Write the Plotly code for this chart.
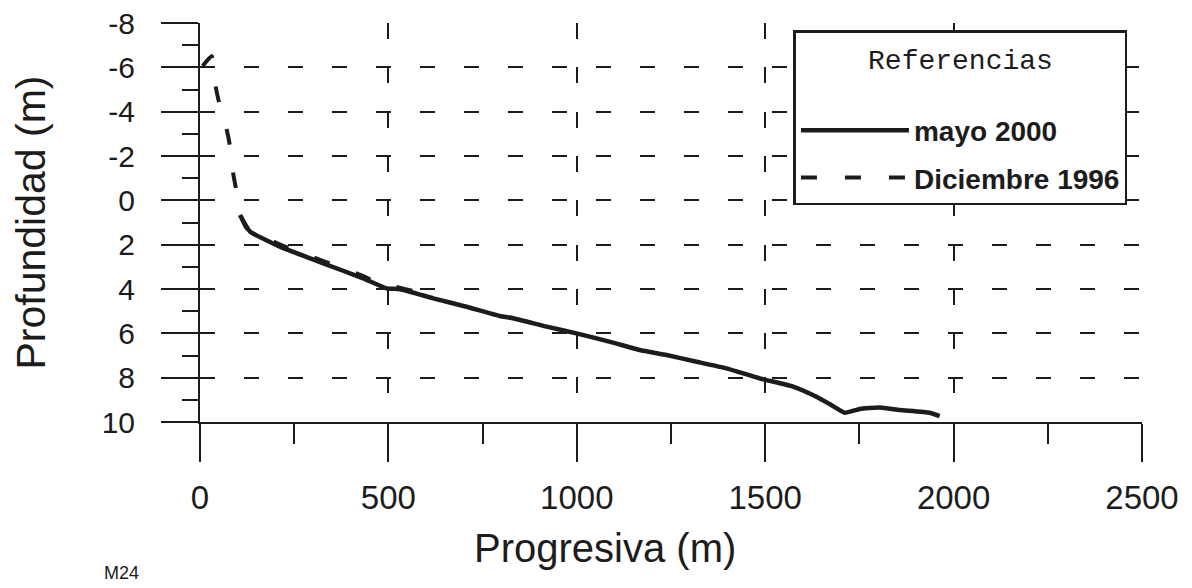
import plotly.graph_objects as go

# --- data ---
mayo2000_x = [106, 133, 212, 327, 433, 495, 531, 619, 707, 796, 831, 920, 999, 1096,
              1167, 1238, 1318, 1397, 1485, 1574, 1636, 1671, 1711, 1751, 1804, 1857, 1936, 1963]
mayo2000_y = [0.66, 1.41, 2.09, 2.84, 3.52, 3.97, 4.01, 4.42, 4.80, 5.22, 5.32, 5.70, 6.00, 6.42,
              6.75, 6.98, 7.28, 7.58, 8.03, 8.40, 8.86, 9.19, 9.58, 9.41, 9.35, 9.46, 9.58, 9.73]

dic1996_x = [7, 31, 42, 51, 71, 79, 88, 95, 108, 124, 220, 432, 493, 517, 565, 619]
dic1996_y = [-6.06, -6.51, -5.10, -4.38, -3.17, -2.50, -1.22, -0.56, 0.69, 1.26, 2.05, 3.41, 3.91, 3.89, 4.09, 4.40]

x_ticks = [0, 500, 1000, 1500, 2000, 2500]
y_ticks = [-8, -6, -4, -2, 0, 2, 4, 6, 8, 10]

INK = "#1c1c1c"
FONT = "Liberation Sans, Arial, sans-serif"
MONO = "Liberation Mono, DejaVu Sans Mono, monospace"

fig = go.Figure()
fig.add_trace(go.Scatter(x=mayo2000_x, y=mayo2000_y, mode="lines", name="mayo 2000",
                         legendgroup="a",
                         line=dict(color=INK, width=4.5, shape="spline", smoothing=0.4)))
fig.add_trace(go.Scatter(x=dic1996_x, y=dic1996_y, mode="lines", name="Diciembre 1996",
                         legendgroup="b",
                         line=dict(color=INK, width=4, dash="16px,28px", shape="spline", smoothing=0.4)))

fig.update_layout(
    width=1192, height=588,
    margin=dict(l=192, r=58, t=15, b=174),
    paper_bgcolor="white", plot_bgcolor="white",
    font=dict(family=FONT, color=INK),
    showlegend=True,
    legend=dict(
        x=0.63, y=0.982, xanchor="left", yanchor="top",
        bgcolor="white", bordercolor=INK, borderwidth=2.5,
        font=dict(family=FONT, size=28, color=INK, weight="bold"),
        title=dict(text="Referencias<br> ", side="top center",
                   font=dict(family=MONO, size=28, color=INK, weight="normal")),
        itemwidth=108, traceorder="grouped", tracegroupgap=8,
    ),
    xaxis=dict(
        range=[0, 2500], tickvals=x_ticks, ticktext=[str(v) for v in x_ticks],
        automargin=False,
        showline=True, linecolor=INK, linewidth=2,
        ticks="outside", ticklen=38, tickwidth=2, tickcolor=INK,
        minor=dict(dtick=250, ticks="outside", ticklen=20, tickwidth=2, tickcolor=INK, showgrid=False),
        showgrid=True, gridcolor=INK, gridwidth=2, griddash="16px,28.3px",
        tickfont=dict(family=FONT, size=33, color=INK),
        ticklabelstandoff=7, ticklabeloverflow="allow",
        zeroline=False,
    ),
    yaxis=dict(
        range=[10, -8], tickvals=y_ticks, ticktext=[str(v) for v in y_ticks],
        automargin=False,
        showline=True, linecolor=INK, linewidth=2,
        ticks="outside", ticklen=37, tickwidth=2, tickcolor=INK,
        minor=dict(dtick=1, ticks="outside", ticklen=16, tickwidth=2, tickcolor=INK, showgrid=False),
        showgrid=True, gridcolor=INK, gridwidth=2, griddash="15px,29px",
        tickfont=dict(family=FONT, size=30, color=INK),
        ticklabelstandoff=20, ticklabeloverflow="allow",
        title=dict(text="Profundidad (m)", font=dict(family=FONT, size=41, color=INK), standoff=59),
        zeroline=False,
    ),
    annotations=[
        dict(text="Progresiva (m)", xref="paper", yref="paper", x=0.43, y=-0.316,
             xanchor="center", yanchor="middle", showarrow=False,
             font=dict(family=FONT, size=40, color=INK)),
        dict(text="M24", xref="paper", yref="paper", x=-0.083, y=-0.378,
             xanchor="center", yanchor="middle", showarrow=False,
             font=dict(family=FONT, size=18, color=INK)),
    ],
)

fig.write_html("out.html")
